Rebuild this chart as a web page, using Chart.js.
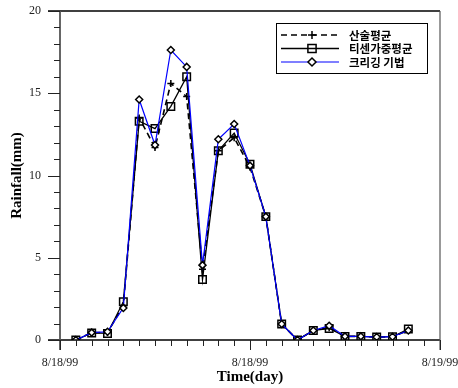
<!DOCTYPE html>
<html>
<head>
<meta charset="utf-8">
<script src="https://cdn.jsdelivr.net/npm/chart.js@4.4.1/dist/chart.umd.min.js"></script>
<style>
html,body{margin:0;padding:0;background:#fff;}
canvas{display:block;}
</style>
</head>
<body>
<canvas id="c" width="458" height="388"></canvas>
<script>
// ---- data ----
const hours = [1,2,3,4,5,6,7,8,9,10,11,12,13,14,15,16,17,18,19,20,21,22];
const seriesNames = ['산술평균', '티센가중평균', '크리깅 기법'];
const arithmeticMean = [0, 0.45, 0.45, 2.1, 13.5, 11.7, 15.6, 14.8, 4.3, 11.5, 12.3, 10.5, 7.5, 0.97, 0, 0.58, 0.75, 0.22, 0.22, 0.18, 0.2, 0.58];
const thiessenMean  = [0, 0.43, 0.4, 2.33, 13.3, 12.85, 14.2, 16.0, 3.68, 11.5, 12.58, 10.68, 7.5, 0.97, 0, 0.58, 0.7, 0.22, 0.22, 0.18, 0.2, 0.67];
const krigingMean   = [0, 0.45, 0.5, 1.95, 14.62, 11.85, 17.63, 16.6, 4.55, 12.2, 13.13, 10.6, 7.5, 0.97, 0, 0.58, 0.87, 0.22, 0.22, 0.18, 0.2, 0.58];
const xTickValues = [0, 12, 24];
const xTickLabels = ['8/18/99', '8/18/99', '8/19/99'];
const yTickValues = [0, 5, 10, 15, 20];
const xTitle = 'Time(day)';
const yTitle = 'Rainfall(mm)';

const toPts = (ys) => hours.map((h, i) => ({x: h, y: ys[i]}));

function drawMarker(ctx, style, x, y, r, stroke, fill, lw) {
  ctx.save();
  ctx.setLineDash([]);
  ctx.lineWidth = lw;
  ctx.strokeStyle = stroke;
  ctx.fillStyle = fill;
  ctx.beginPath();
  if (style === 'cross') {
    ctx.moveTo(x - r, y); ctx.lineTo(x + r, y);
    ctx.moveTo(x, y - r); ctx.lineTo(x, y + r);
    ctx.stroke();
  } else if (style === 'rect') {
    const s = r * Math.SQRT1_2;
    ctx.rect(x - s, y - s, 2 * s, 2 * s);
    if (fill && fill !== 'transparent') ctx.fill();
    ctx.stroke();
  } else if (style === 'rectRot') {
    ctx.moveTo(x, y - r); ctx.lineTo(x + r, y); ctx.lineTo(x, y + r); ctx.lineTo(x - r, y); ctx.closePath();
    if (fill && fill !== 'transparent') ctx.fill();
    ctx.stroke();
  }
  ctx.restore();
}

const framePlugin = {
  id: 'frame',
  beforeDraw(chart) {
    const ctx = chart.ctx;
    ctx.save();
    ctx.fillStyle = '#fff';
    ctx.fillRect(0, 0, chart.width, chart.height);
    ctx.restore();
  },
  afterDraw(chart) {
    const ctx = chart.ctx;
    const xs = chart.scales.x, ys = chart.scales.y;
    const a = chart.chartArea;
    ctx.save();
    ctx.setLineDash([]);
    // top frame line (extends left like a major tick)
    ctx.strokeStyle = '#000'; ctx.lineWidth = 1.3;
    ctx.beginPath(); ctx.moveTo(a.left - 12, a.top); ctx.lineTo(a.right, a.top); ctx.stroke();
    // bottom axis
    ctx.beginPath(); ctx.moveTo(a.left - 12, a.bottom); ctx.lineTo(a.right, a.bottom); ctx.stroke();
    // right frame
    ctx.strokeStyle = '#555'; ctx.lineWidth = 1.2;
    ctx.beginPath(); ctx.moveTo(a.right, a.top); ctx.lineTo(a.right, a.bottom + 10); ctx.stroke();
    // left y axis
    ctx.strokeStyle = '#555'; ctx.lineWidth = 1.8;
    ctx.beginPath(); ctx.moveTo(a.left, a.top); ctx.lineTo(a.left, a.bottom + 10); ctx.stroke();
    // y ticks
    ctx.strokeStyle = '#222'; ctx.lineWidth = 1;
    ys.ticks.forEach(t => {
      const py = Math.round(ys.getPixelForValue(t.value)) + 0.5;
      const major = yTickValues.includes(t.value);
      ctx.beginPath(); ctx.moveTo(a.left - (major ? 12 : 6), py); ctx.lineTo(a.left, py); ctx.stroke();
    });
    // x ticks
    xs.ticks.forEach(t => {
      const px = Math.round(xs.getPixelForValue(t.value)) + 0.5;
      const major = xTickValues.includes(t.value);
      ctx.beginPath(); ctx.moveTo(px, a.bottom); ctx.lineTo(px, a.bottom + (major ? 10 : 6)); ctx.stroke();
    });
    // legend
    const bx = 276, by = 23, bw = 151, bh = 50;
    ctx.fillStyle = '#fff';
    ctx.fillRect(bx, by, bw, bh);
    ctx.strokeStyle = '#000'; ctx.lineWidth = 1;
    ctx.strokeRect(bx + 0.5, by + 0.5, bw, bh);
    const rowsY = [35, 48.5, 62];
    chart.data.datasets.forEach((ds, i) => {
      const yy = rowsY[i];
      ctx.save();
      ctx.strokeStyle = ds.borderColor;
      ctx.lineWidth = ds.borderWidth;
      ctx.setLineDash(ds.borderDash || []);
      ctx.beginPath(); ctx.moveTo(281, yy); ctx.lineTo(339, yy); ctx.stroke();
      ctx.restore();
      drawMarker(ctx, ds.pointStyle, 312, yy, ds.pointRadius + 0.5, ds.pointBorderColor, ds.pointBackgroundColor, ds.pointBorderWidth);
      ctx.fillStyle = '#000';
      ctx.font = 'bold 11.5px "Noto Sans CJK KR"';
      ctx.textBaseline = 'middle';
      ctx.textAlign = 'left';
      ctx.fillText(ds.label, 349, yy + 0.5);
    });
    ctx.restore();
  }
};

new Chart(document.getElementById('c'), {
  type: 'line',
  data: {
    datasets: [
      {
        label: seriesNames[0], data: toPts(arithmeticMean), order: 3,
        borderColor: '#000', borderWidth: 1.6, borderDash: [6, 4],
        pointStyle: 'cross', pointRadius: 3.5, pointBorderColor: '#000', pointBackgroundColor: '#000', pointBorderWidth: 1.5
      },
      {
        label: seriesNames[1], data: toPts(thiessenMean), order: 2,
        borderColor: '#000', borderWidth: 1.3,
        pointStyle: 'rect', pointRadius: 5.3, pointBorderColor: '#000', pointBackgroundColor: 'transparent', pointBorderWidth: 1.5
      },
      {
        label: seriesNames[2], data: toPts(krigingMean), order: 1,
        borderColor: '#0000ff', borderWidth: 1.2,
        pointStyle: 'rectRot', pointRadius: 3.5, pointBorderColor: '#000', pointBackgroundColor: '#fff', pointBorderWidth: 1.5
      }
    ]
  },
  options: {
    responsive: false,
    animation: false,
    devicePixelRatio: 1,
    layout: { padding: { left: 0, right: 18, top: 11, bottom: 0 } },
    plugins: { legend: { display: false }, tooltip: { enabled: false } },
    elements: { line: { tension: 0 } },
    scales: {
      x: {
        type: 'linear', min: 0, max: 24,
        grid: { display: false, drawTicks: false },
        border: { display: false },
        afterFit: (s) => { s.height = 48; s.paddingLeft = 0; s.paddingRight = 0; },
        ticks: {
          stepSize: 1, autoSkip: false, maxRotation: 0, padding: 16,
          color: '#222',
          font: { family: '"Liberation Serif"', size: 12 },
          callback: (v) => { const k = xTickValues.indexOf(v); return k >= 0 ? xTickLabels[k] : ''; }
        },
        title: {
          display: true, text: xTitle, color: '#000',
          font: { family: '"Liberation Serif"', size: 15, weight: 'bold' },
          padding: { top: 0, bottom: 2 }
        }
      },
      y: {
        type: 'linear', min: 0, max: 20,
        grid: { display: false, drawTicks: false },
        border: { display: false },
        afterFit: (s) => { s.width = 60; s.paddingTop = 0; s.paddingBottom = 0; },
        ticks: {
          stepSize: 1, autoSkip: false, padding: 19,
          color: '#222',
          font: { family: '"Liberation Serif"', size: 12 },
          callback: (v) => yTickValues.includes(v) ? String(v) : ''
        },
        title: {
          display: true, text: yTitle, color: '#000',
          font: { family: '"Liberation Serif"', size: 15, weight: 'bold' },
          padding: { top: 8, bottom: 0 }
        }
      }
    }
  },
  plugins: [framePlugin]
});
</script>
</body>
</html>
